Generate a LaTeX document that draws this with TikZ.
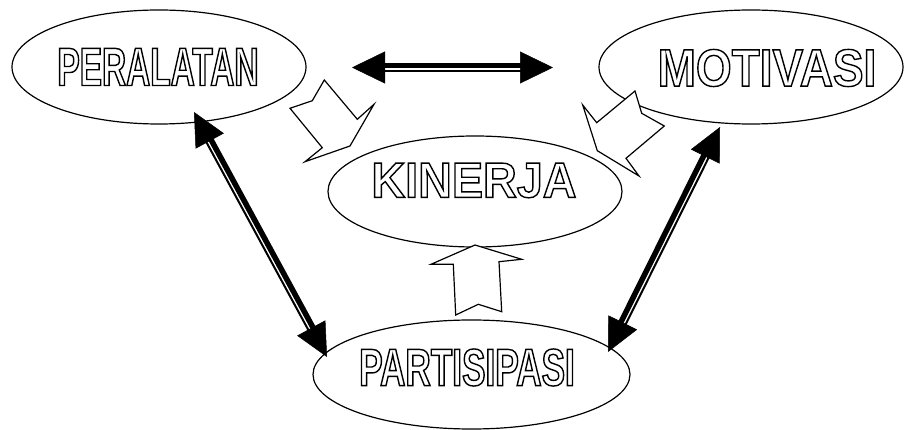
\documentclass[tikz,border=0pt]{standalone}
\usepackage{fontspec}
\setmainfont{Liberation Sans}
\usetikzlibrary{shapes.geometric,arrows.meta,calc}
\newfontfamily\perfont[FakeStretch=0.62]{Liberation Sans}
\newfontfamily\motfont[FakeStretch=0.875]{Liberation Sans}
\newfontfamily\kinfont[FakeStretch=0.94]{Liberation Sans}
\newfontfamily\parfont[FakeStretch=0.67]{Liberation Sans}
\newcommand{\hollowtext}[3]{{#1\fontsize{#2}{#2}\selectfont\bfseries
  \special{pdf:literal direct 2 Tr 1.4 w 0 G 1 g}#3\special{pdf:literal direct 0 Tr 0 g 0 G}}}
\newcommand{\thickthin}[2]{%
  \draw[line width=5.5pt, shorten <=20pt, shorten >=20pt] ($(#1)!1.75pt!90:(#2)$) -- ($(#2)!1.75pt!-90:(#1)$);
  \draw[line width=2pt, shorten <=20pt, shorten >=20pt] ($(#1)!3.5pt!-90:(#2)$) -- ($(#2)!3.5pt!90:(#1)$);
  \draw[{Triangle[length=33pt,width=32pt]}-{Triangle[length=33pt,width=32pt]}, line width=0.5pt] (#1) -- (#2);
}
\begin{document}
\begin{tikzpicture}[x=1pt, y=-1pt,
    ellstyle/.style={ellipse, draw, line width=1.2pt, inner sep=0pt},
    lblstyle/.style={inner sep=0pt},
    blockarrow/.style={draw, fill=white, line width=1.2pt, line join=miter}]
\useasboundingbox (0,0) rectangle (905,430);

% ellipses
\node[ellstyle, minimum width=294pt, minimum height=114pt] (per) at (159,67) {};
\node[ellstyle, minimum width=304pt, minimum height=114pt] (mot) at (751,67) {};
\node[ellstyle, minimum width=294pt, minimum height=111pt] (kin) at (475,191.5) {};
\node[ellstyle, minimum width=317pt, minimum height=109pt] (par) at (471.5,374.5) {};

% block arrows
\draw[blockarrow] (290,108.3) -- (312.3,100.7) -- (324.3,80) -- (357.3,119.3) -- (374,104.3)
  -- (350,146) -- (305,161.7) -- (322.3,147.7) -- cycle;
\draw[blockarrow] (582.7,105) -- (596.7,122.7) -- (635,91) -- (641.7,113.3) -- (664.3,126)
  -- (626,158.3) -- (639,176) -- (597.3,150.7) -- cycle;
\draw[blockarrow] (431,264.3) -- (475,245) -- (521.7,259.3) -- (499,261.7) -- (501.7,311.7)
  -- (478.3,304.3) -- (455.7,315) -- (453.3,264.3) -- cycle;

% double arrows
\coordinate (topL) at (352,67.5);
\coordinate (topR) at (553,67.5);
\coordinate (leftT) at (194,112);
\coordinate (leftB) at (327,357);
\coordinate (rightB) at (608,352);
\coordinate (rightT) at (720,127);
\thickthin{topL}{topR}
\thickthin{leftT}{leftB}
\thickthin{rightB}{rightT}

% labels
\node[lblstyle] (perT) at (158,67) {\hollowtext{\perfont}{53.9pt}{PERALATAN}};
\node[lblstyle] (motT) at (767,68) {\hollowtext{\motfont}{52.5pt}{MOTIVASI}};
\node[lblstyle] (kinT) at (474,180.5) {\hollowtext{\kinfont}{49.7pt}{KINERJA}};
\node[lblstyle] (parT) at (467,367.5) {\hollowtext{\parfont}{52.5pt}{PARTISIPASI}};
\end{tikzpicture}
\end{document}
